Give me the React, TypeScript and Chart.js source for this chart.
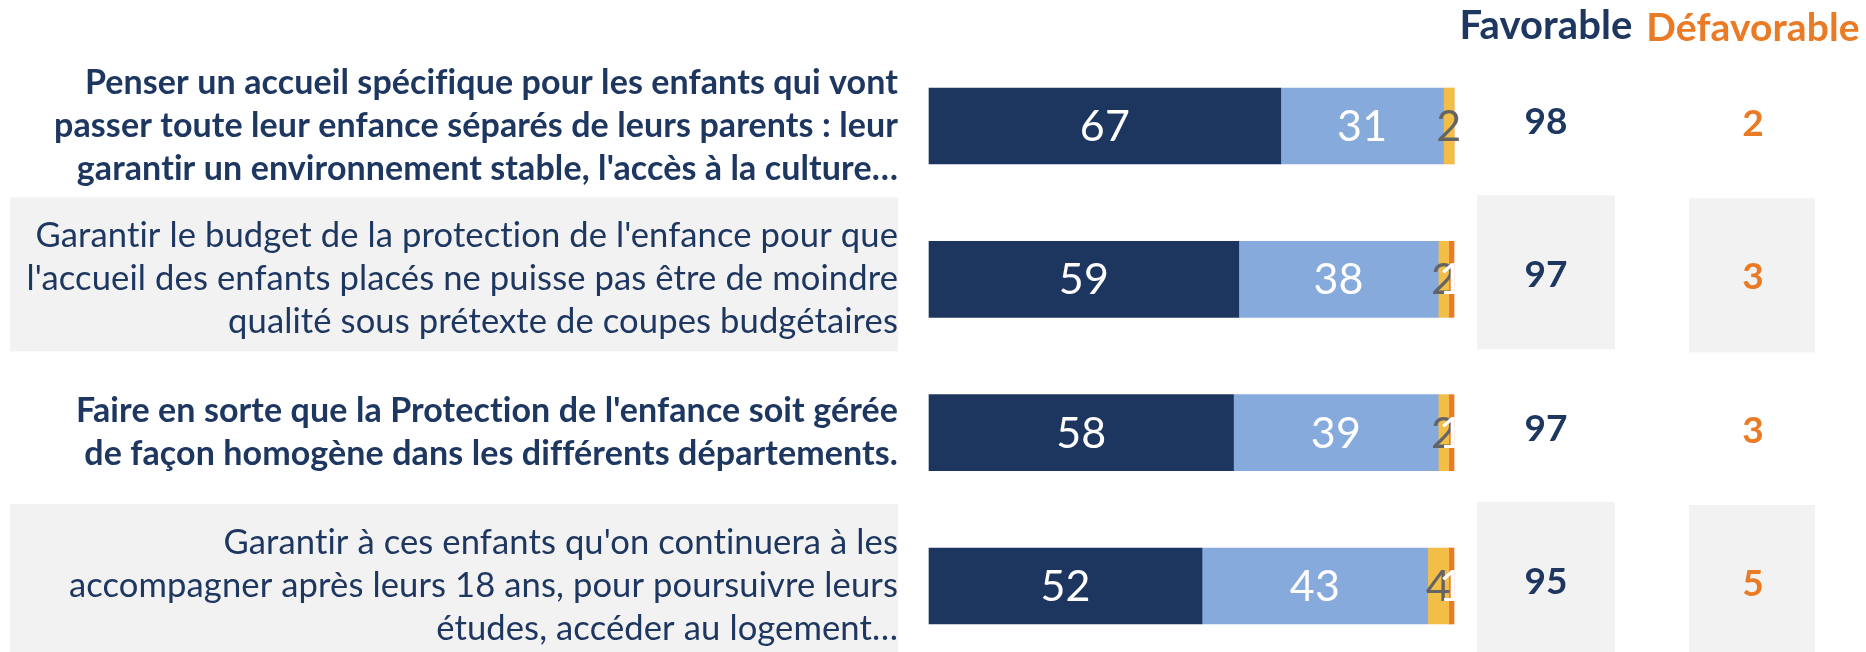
import React, { useEffect, useRef } from 'react';
import { Chart, registerables } from 'chart.js';

Chart.register(...registerables);

const categories: string[][] = [
  [
    'Penser un accueil spécifique pour les enfants qui vont',
    'passer toute leur enfance séparés de leurs parents : leur',
    "garantir un environnement stable, l'accès à la culture…",
  ],
  [
    "Garantir le budget de la protection de l'enfance pour que",
    "l'accueil des enfants placés ne puisse pas être de moindre",
    'qualité sous prétexte de coupes budgétaires',
  ],
  [
    "Faire en sorte que la Protection de l'enfance soit gérée",
    'de façon homogène dans les différents départements.',
  ],
  [
    "Garantir à ces enfants qu'on continuera à les",
    'accompagner après leurs 18 ans, pour poursuivre leurs',
    'études, accéder au logement…',
  ],
];

const seriesNames = ['Tout à fait favorable', 'Plutôt favorable', 'Plutôt défavorable', 'Tout à fait défavorable'];
const toutAFaitFavorable = [67, 59, 58, 52];
const plutotFavorable = [31, 38, 39, 43];
const plutotDefavorable = [2, 2, 2, 4];
const toutAFaitDefavorable = [0, 1, 1, 1];
const favorableTotals = [98, 97, 97, 95];
const defavorableTotals = [2, 3, 3, 5];
const columnHeaders = ['Favorable', 'Défavorable'];
const boldRows = [true, false, true, false];
const shadedRows = [false, true, false, true];

const NAVY = '#1D3660';
const LIGHT_BLUE = '#86AADC';
const YELLOW = '#F2BE48';
const ORANGE = '#EA7A24';
const TEXT_NAVY = '#1E3760';
const SHADE = '#F2F2F2';
const FONT = 'Lato';

const seriesColors = [NAVY, LIGHT_BLUE, YELLOW, ORANGE];
const labelColors = ['#FFFFFF', '#FFFFFF', '#646464', '#FFFFFF'];

const FAV_OFFSET = 92; // from chart area right edge
const DEF_OFFSET = 299;

const decorPlugin = {
  id: 'decor',
  beforeDraw(chart: any) {
    const { ctx, chartArea, scales } = chart;
    try {
      ctx.letterSpacing = '0.1px';
    } catch (e) {
      /* ignore */
    }
    const y = scales.y;
    ctx.save();
    ctx.fillStyle = SHADE;
    shadedRows.forEach((shaded, i) => {
      if (!shaded) return;
      const cy = y.getPixelForValue(i) - 5;
      ctx.fillRect(10, cy - 77, chartArea.left - 31 - 10, 154);
      const fx = chartArea.right + FAV_OFFSET;
      ctx.fillRect(fx - 69, cy - 79, 138, 154);
      const dx = chartArea.right + DEF_OFFSET;
      ctx.fillRect(dx - 64, cy - 76, 126, 154);
    });
    ctx.restore();
  },
  afterDatasetsDraw(chart: any) {
    const { ctx, chartArea, scales } = chart;
    const y = scales.y;
    ctx.save();
    ctx.textAlign = 'center';
    ctx.textBaseline = 'middle';
    chart.data.datasets.forEach((ds: any, di: number) => {
      const meta = chart.getDatasetMeta(di);
      meta.data.forEach((bar: any, i: number) => {
        const v = ds.data[i];
        if (!v) return;
        const cx = (bar.x + bar.base) / 2;
        ctx.font = `normal 43px ${FONT}`;
        ctx.fillStyle = labelColors[di];
        ctx.fillText(String(v), cx, bar.y + 1);
      });
    });
    const fx = chartArea.right + FAV_OFFSET;
    const dx = chartArea.right + DEF_OFFSET;
    ctx.font = `bold 40px ${FONT}`;
    ctx.fillStyle = TEXT_NAVY;
    ctx.fillText(columnHeaders[0], fx, 26);
    ctx.font = `bold 39px ${FONT}`;
    ctx.fillStyle = ORANGE;
    ctx.fillText(columnHeaders[1], dx, 28);
    ctx.font = `bold 37px ${FONT}`;
    favorableTotals.forEach((v, i) => {
      const cy = y.getPixelForValue(i);
      ctx.fillStyle = TEXT_NAVY;
      ctx.fillText(String(v), fx, cy - 4);
      ctx.fillStyle = ORANGE;
      ctx.fillText(String(defavorableTotals[i]), dx, cy - 2);
    });
    ctx.restore();
  },
};

export default function App() {
  const ref = useRef<HTMLCanvasElement | null>(null);
  useEffect(() => {
    if (!ref.current) return;
    const series = [toutAFaitFavorable, plutotFavorable, plutotDefavorable, toutAFaitDefavorable];
    const chart = new Chart(ref.current, {
      type: 'bar',
      data: {
        labels: categories as any,
        datasets: series.map((data, i) => ({
          label: seriesNames[i],
          data,
          backgroundColor: seriesColors[i],
          borderWidth: 0,
          barThickness: 76,
          clip: false as any,
        })),
      },
      options: {
        indexAxis: 'y',
        responsive: false,
        animation: false,
        layout: { padding: { left: 0, right: 412, top: 126, bottom: 66 } },
        plugins: { legend: { display: false }, tooltip: { enabled: false } },
        scales: {
          x: { stacked: true, min: 0, max: 100, display: false },
          y: {
            stacked: true,
            offset: false,
            grid: { display: false, drawTicks: false },
            border: { display: false },
            ticks: {
              autoSkip: false,
              padding: 31,
              color: TEXT_NAVY,
              font: (c: any) => ({
                family: FONT,
                size: boldRows[c.index] ? 34 : 34.6,
                weight: boldRows[c.index] ? 'bold' : 'normal',
                lineHeight: '43px',
              }),
            },
            afterFit: (scale: any) => {
              scale.width = 929;
              scale.paddingTop = 0;
              scale.paddingBottom = 0;
            },
          },
        },
      },
      plugins: [decorPlugin],
    });
    return () => chart.destroy();
  }, []);
  return (
    <canvas
      ref={ref}
      width={1866}
      height={652}
      style={{ position: 'fixed', left: 0, top: 0, display: 'block', width: 1866, height: 652 }}
    />
  );
}
